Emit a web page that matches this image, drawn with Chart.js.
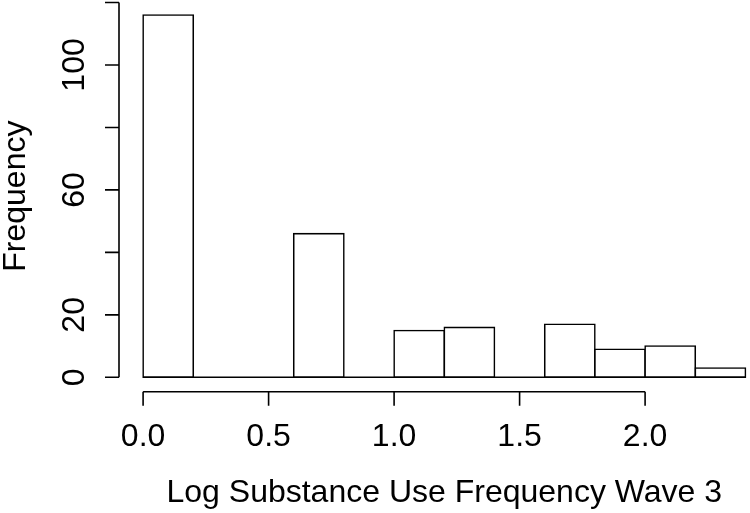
<!DOCTYPE html>
<html lang="en">
<head>
  <meta charset="UTF-8">
  <title>Histogram</title>
  <style>
    html, body { margin: 0; padding: 0; background: #fff; }
  </style>
</head>
<body>
  <canvas id="myChart" width="750" height="513"></canvas>
  <script src="https://cdn.jsdelivr.net/npm/chart.js"></script>
  <script>
    // histogram bins and counts
    var breaks = [0, 0.2, 0.4, 0.6, 0.8, 1.0, 1.2, 1.4, 1.6, 1.8, 2.0, 2.2, 2.4];
    var counts = [116, 0, 0, 46, 0, 15, 16, 0, 17, 9, 10, 3];

    // axis ticks (R drops labels that would overlap)
    var xTicks = [0, 0.5, 1.0, 1.5, 2.0];
    var xTickLabels = ['0.0', '0.5', '1.0', '1.5', '2.0'];
    var yTicks = [0, 20, 40, 60, 80, 100, 120];
    var yTickLabels = ['0', '20', '', '60', '', '100', ''];

    var xTitle = 'Log Substance Use Frequency Wave 3';
    var yTitle = 'Frequency';

    var FONT = '32px "Liberation Sans", Arial, sans-serif';
    var LINE = 1.6;

    var bars = counts.map(function(c, i) {
      return { x: (breaks[i] + breaks[i + 1]) / 2, y: c };
    });

    // R style range extension of 4%
    var xr = breaks[breaks.length - 1] - breaks[0];
    var xLo = breaks[0] - 0.04 * xr;
    var xHi = breaks[breaks.length - 1] + 0.04 * xr;
    var yMaxCount = Math.max.apply(null, counts);
    var yLo = -0.04 * yMaxCount;
    var yHi = yMaxCount * 1.04;

    var rAxes = {
      id: 'rAxes',
      afterDatasetsDraw: function(chart) {
        var ctx = chart.ctx;
        var x = chart.scales.x, y = chart.scales.y;
        var area = chart.chartArea;
        ctx.save();
        ctx.strokeStyle = '#000';
        ctx.fillStyle = '#000';
        ctx.lineWidth = LINE;

        // baseline under the bins (zero bins show as a line)
        ctx.beginPath();
        ctx.moveTo(x.getPixelForValue(breaks[0]), y.getPixelForValue(0));
        ctx.lineTo(x.getPixelForValue(breaks[breaks.length - 1]), y.getPixelForValue(0));
        ctx.stroke();

        // x axis
        var ax = area.bottom;
        ctx.beginPath();
        ctx.moveTo(x.getPixelForValue(xTicks[0]), ax);
        ctx.lineTo(x.getPixelForValue(xTicks[xTicks.length - 1]), ax);
        xTicks.forEach(function(t) {
          var px = x.getPixelForValue(t);
          ctx.moveTo(px, ax);
          ctx.lineTo(px, ax + 14);
        });
        ctx.stroke();
        ctx.font = FONT;
        ctx.textAlign = 'center';
        ctx.textBaseline = 'alphabetic';
        xTicks.forEach(function(t, i) {
          ctx.fillText(xTickLabels[i], x.getPixelForValue(t), ax + 54);
        });
        var mid = (x.getPixelForValue(xLo) + x.getPixelForValue(xHi)) / 2;
        ctx.fillText(xTitle, mid, ax + 110);

        // y axis
        var ay = area.left;
        ctx.beginPath();
        ctx.moveTo(ay, y.getPixelForValue(yTicks[0]));
        ctx.lineTo(ay, y.getPixelForValue(yTicks[yTicks.length - 1]));
        yTicks.forEach(function(t) {
          var py = y.getPixelForValue(t);
          ctx.moveTo(ay, py);
          ctx.lineTo(ay - 14, py);
        });
        ctx.stroke();
        yTicks.forEach(function(t, i) {
          if (!yTickLabels[i]) return;
          ctx.save();
          ctx.translate(ay - 35, y.getPixelForValue(t));
          ctx.rotate(-Math.PI / 2);
          ctx.fillText(yTickLabels[i], 0, 0);
          ctx.restore();
        });
        ctx.save();
        ctx.translate(ay - 94, (area.top + area.bottom) / 2);
        ctx.rotate(-Math.PI / 2);
        ctx.fillText(yTitle, 0, 0);
        ctx.restore();

        ctx.restore();
      }
    };

    var ctx = document.getElementById('myChart').getContext('2d');
    var myChart = new Chart(ctx, {
      type: 'bar',
      data: {
        datasets: [{
          data: bars,
          backgroundColor: '#fff',
          borderColor: '#000',
          borderWidth: LINE,
          borderSkipped: false,
          inflateAmount: LINE / 2,
          barPercentage: 1,
          categoryPercentage: 1
        }]
      },
      options: {
        responsive: false,
        animation: false,
        layout: { padding: { left: 119, top: 0.5, right: 0, bottom: 121.2 } },
        plugins: { legend: { display: false }, tooltip: { enabled: false } },
        scales: {
          x: { type: 'linear', display: false, offset: false, min: xLo, max: xLo + (750 - 119) / 251 },
          y: { type: 'linear', display: false, min: yLo, max: yHi }
        }
      },
      plugins: [rAxes]
    });
  </script>
</body>
</html>
